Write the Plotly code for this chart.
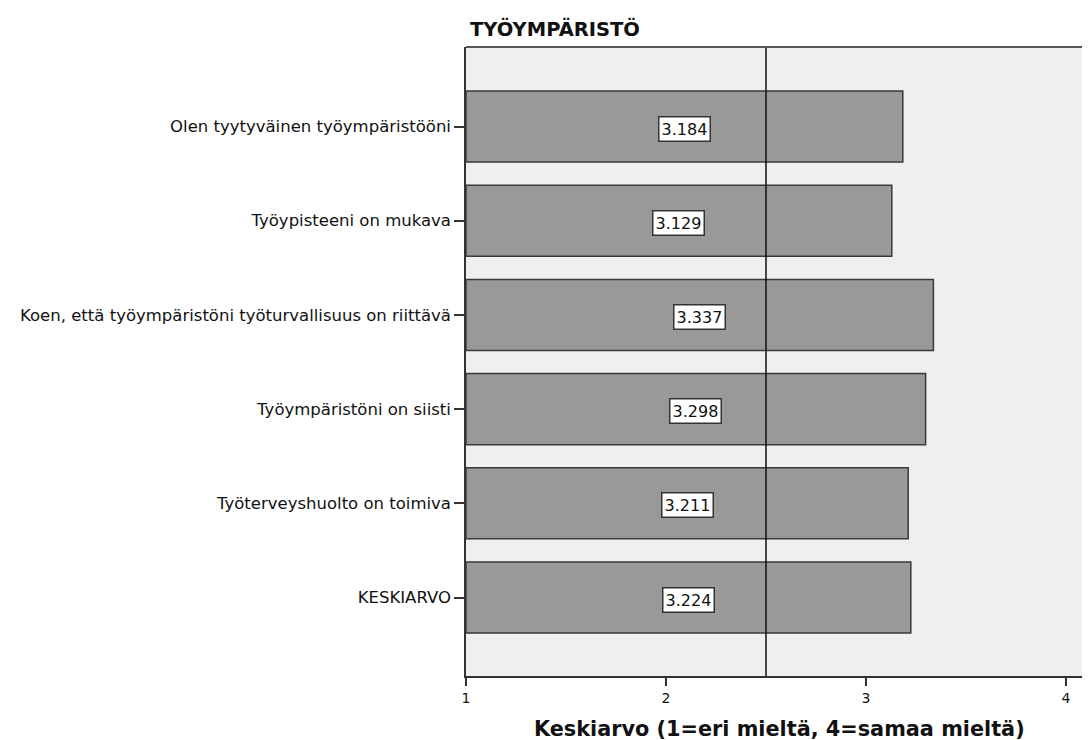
import plotly.graph_objects as go

categories = [
    "Olen tyytyväinen työympäristööni",
    "Työypisteeni on mukava",
    "Koen, että työympäristöni työturvallisuus on riittävä",
    "Työympäristöni on siisti",
    "Työterveyshuolto on toimiva",
    "KESKIARVO",
]
values = [3.184, 3.129, 3.337, 3.298, 3.211, 3.224]
scale_min = 1
reference_value = 2.5
x_ticks = [1, 2, 3, 4]
chart_title = "TYÖYMPÄRISTÖ"
x_title = "Keskiarvo (1=eri mieltä, 4=samaa mieltä)"

FONT = "DejaVu Sans"

fig = go.Figure()
fig.add_trace(go.Bar(
    y=categories,
    x=[v - scale_min for v in values],
    base=scale_min,
    orientation="h",
    marker=dict(color="#999999", line=dict(color="#3a3a3a", width=1.5)),
    hoverinfo="skip",
    showlegend=False,
))

for c, v in zip(categories, values):
    fig.add_annotation(
        x=(scale_min + v) / 2, y=c, xref="x", yref="y",
        text=f"{v:.3f}", showarrow=False,
        font=dict(family=FONT, size=16, color="#111111"),
        bgcolor="white", bordercolor="#333333", borderwidth=1.5, borderpad=2,
        yshift=-2,
    )

# reference line
fig.add_shape(type="line", xref="x", yref="paper", x0=reference_value, x1=reference_value,
              y0=0, y1=1, line=dict(color="#111111", width=1.5), layer="above")
# top frame line
fig.add_shape(type="line", xref="paper", yref="paper", x0=0, x1=1, y0=1, y1=1,
              line=dict(color="#555555", width=2), layer="above")
# right frame line
fig.add_shape(type="line", xref="paper", yref="paper", x0=1, x1=1, y0=0, y1=1,
              line=dict(color="#cccccc", width=1), layer="above")

fig.add_annotation(
    xref="paper", yref="paper", x=0.4976, y=-0.0835, xanchor="center", yanchor="middle",
    text=f"<b>{x_title}</b>", showarrow=False,
    font=dict(family=FONT, size=20.8, color="#111111"),
)

fig.update_layout(
    width=1090, height=740,
    margin=dict(l=458, r=1, t=39, b=72),
    paper_bgcolor="white",
    plot_bgcolor="#efefef",
    bargap=0.246,
    title=dict(text=f"<b>{chart_title}</b>", x=462 / 1090, xanchor="left",
               y=1 - 21.5 / 740, yanchor="middle", xref="container", yref="container",
               font=dict(family=FONT, size=19.5, color="#111111")),
    font=dict(family=FONT, color="#111111"),
)
fig.update_xaxes(
    range=[scale_min, scale_min + 631 / 200], tickvals=x_ticks,
    showgrid=False, zeroline=False,
    showline=True, linecolor="#333333", linewidth=1.5,
    ticks="outside", ticklen=8, tickwidth=1.5, tickcolor="#333333",
    tickfont=dict(family=FONT, size=14, color="#111111"),
)
fig.update_yaxes(
    range=[5.833, -0.844],
    showgrid=False, zeroline=False,
    showline=True, linecolor="#333333", linewidth=1.5,
    ticks="outside", ticklen=10, tickwidth=1.5, tickcolor="#333333",
    tickfont=dict(family=FONT, size=16.5, color="#111111"),
)

fig.write_html("out.html")
